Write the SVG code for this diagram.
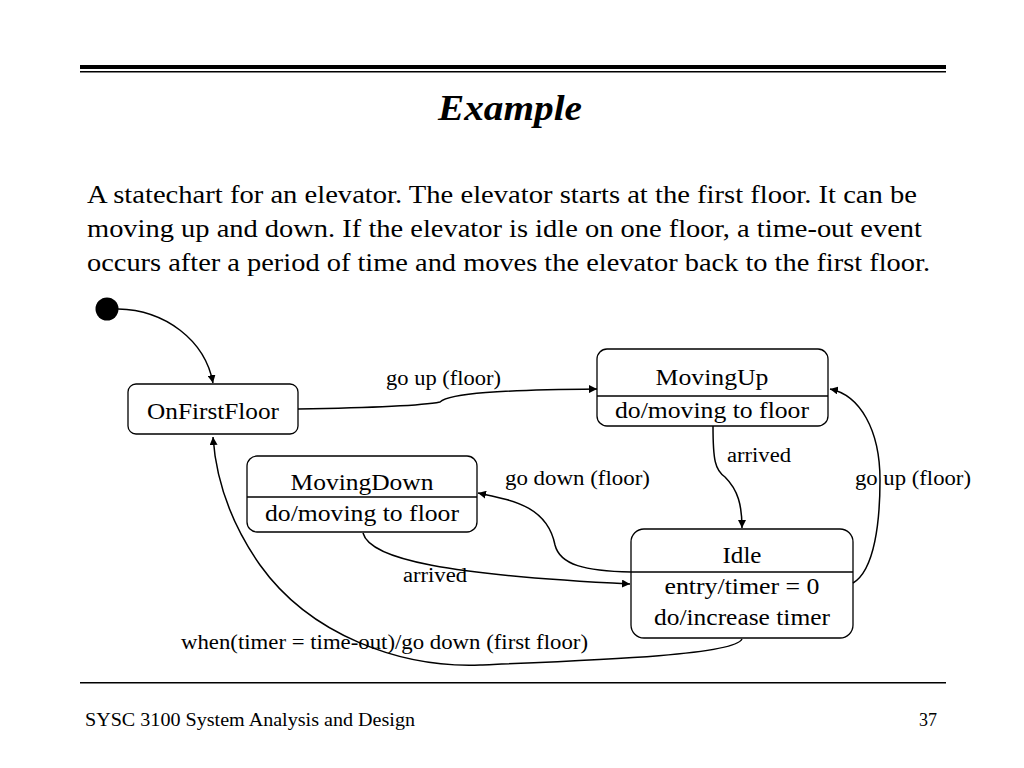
<svg xmlns="http://www.w3.org/2000/svg" width="1024" height="768" viewBox="0 0 1024 768">
<defs>
<style>
text{font-family:"Liberation Serif","Times New Roman",serif;fill:#000}
.st{fill:#fff;stroke:#000;stroke-width:1.3}
.dv{stroke:#000;stroke-width:1.3}
.lbl{font-size:20px}
.nt{font-size:23px;text-anchor:middle}
.c{fill:none;stroke:#000;stroke-width:1.5;marker-end:url(#ah)}
</style>
<marker id="ah" viewBox="0 0 10 10" refX="10" refY="5" markerWidth="8" markerHeight="8" markerUnits="userSpaceOnUse" orient="auto">
<path d="M0,0 L10,5 L0,10 z" fill="#000"/>
</marker>
</defs>
<rect width="1024" height="768" fill="#fff"/>
<rect x="80" y="65" width="866" height="4" fill="#000"/>
<rect x="80" y="71" width="866" height="1.5" fill="#000"/>
<text x="438" y="120" font-size="36" font-weight="bold" font-style="italic" textLength="144" lengthAdjust="spacingAndGlyphs">Example</text>
<text x="87" y="203" font-size="25" textLength="830" lengthAdjust="spacingAndGlyphs">A statechart for an elevator. The elevator starts at the first floor. It can be</text>
<text x="87" y="237" font-size="25" textLength="835" lengthAdjust="spacingAndGlyphs">moving up and down. If the elevator is idle on one floor, a time-out event</text>
<text x="87" y="271" font-size="25" textLength="843" lengthAdjust="spacingAndGlyphs">occurs after a period of time and moves the elevator back to the first floor.</text>
<rect x="80" y="682" width="866" height="1.5" fill="#000"/>
<text x="85" y="726" font-size="18" textLength="330" lengthAdjust="spacingAndGlyphs">SYSC 3100 System Analysis and Design</text>
<text x="937" y="726" font-size="18" text-anchor="end">37</text>

<g id="initial"><circle cx="107" cy="309" r="11.5" fill="#000"/></g>
<g id="OnFirstFloor">
<rect class="st" x="128" y="384" width="170" height="50" rx="8"/>
<text class="nt" x="213" y="419" textLength="132" lengthAdjust="spacingAndGlyphs">OnFirstFloor</text>
</g>
<g id="MovingUp">
<rect class="st" x="597" y="349" width="231" height="77" rx="10"/>
<line class="dv" x1="597" y1="396" x2="828" y2="396"/>
<text class="nt" x="712" y="385" textLength="113" lengthAdjust="spacingAndGlyphs">MovingUp</text>
<text class="nt" x="712" y="418" textLength="194" lengthAdjust="spacingAndGlyphs">do/moving to floor</text>
</g>
<g id="MovingDown">
<rect class="st" x="247" y="456" width="230" height="76" rx="10"/>
<line class="dv" x1="247" y1="497" x2="477" y2="497"/>
<text class="nt" x="362" y="490" textLength="143" lengthAdjust="spacingAndGlyphs">MovingDown</text>
<text class="nt" x="362" y="521" textLength="194" lengthAdjust="spacingAndGlyphs">do/moving to floor</text>
</g>
<g id="Idle">
<rect class="st" x="631" y="529" width="222" height="109" rx="13"/>
<line class="dv" x1="631" y1="572" x2="853" y2="572"/>
<text class="nt" x="742" y="563" textLength="39" lengthAdjust="spacingAndGlyphs">Idle</text>
<text class="nt" x="742" y="594" textLength="155" lengthAdjust="spacingAndGlyphs">entry/timer = 0</text>
<text class="nt" x="742" y="625" textLength="176" lengthAdjust="spacingAndGlyphs">do/increase timer</text>
</g>

<g id="connectors">
<path class="c" d="M118,309 C165,310 205,340 213,383"/>
<path class="c" d="M298,409 C360,408 420,406 440,402 C450,393 500,390 597,389"/>
<path class="c" d="M713,426 C713,460 715,470 725,477 C738,490 742,505 742,528"/>
<path class="c" d="M853,583 C875,570 880,520 880,480 C880,430 860,395 830,389"/>
<path class="c" d="M631,572 C585,571 560,565 555,545 C547,505 510,500 478,493"/>
<path class="c" d="M363,533 C370,560 450,575 630,584"/>
<path class="c" d="M742,639 C735,655 600,660 480,665 C400,668 310,635 260,565 C232,525 216,480 213,437"/>
</g>
<g id="labels">
<text class="lbl" x="386" y="385" textLength="115" lengthAdjust="spacingAndGlyphs">go up (floor)</text>
<text class="lbl" x="727" y="462" textLength="64" lengthAdjust="spacingAndGlyphs">arrived</text>
<text class="lbl" x="855" y="485" textLength="116" lengthAdjust="spacingAndGlyphs">go up (floor)</text>
<text class="lbl" x="505" y="485" textLength="145" lengthAdjust="spacingAndGlyphs">go down (floor)</text>
<text class="lbl" x="403" y="582" textLength="64" lengthAdjust="spacingAndGlyphs">arrived</text>
<text class="lbl" x="181" y="649" textLength="407" lengthAdjust="spacingAndGlyphs">when(timer = time-out)/go down (first floor)</text>
</g>
</svg>
